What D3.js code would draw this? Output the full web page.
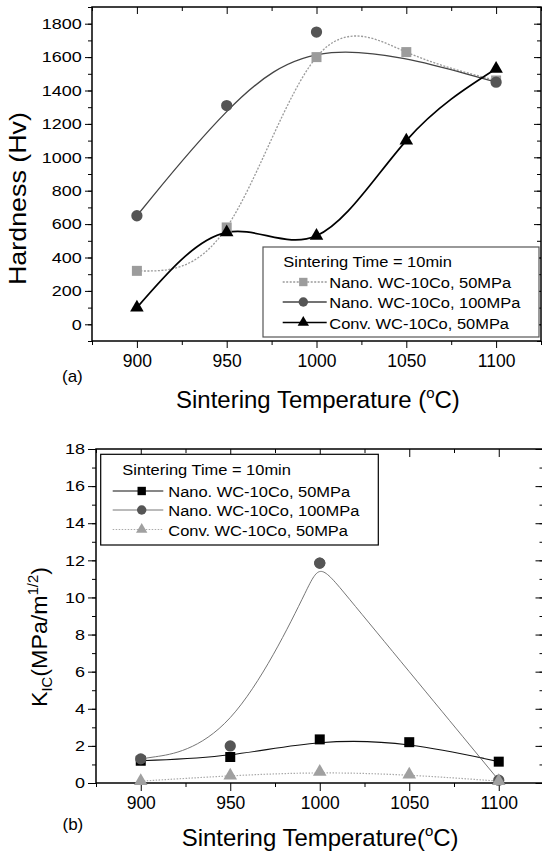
<!DOCTYPE html>
<html>
<head>
<meta charset="utf-8">
<script src="https://cdn.jsdelivr.net/npm/d3@7"></script>
<style>
	body { margin: 0; background: #fff; }
	svg { display: block; }
	text { font-family: "Liberation Sans", Arial, sans-serif; fill: #000; }
</style>
</head>
<body>
<svg id="chart" width="542" height="857"></svg>
<script>
/* Data */
const temps = [900, 950, 1000, 1050, 1100];
const tempTicks = [900, 950, 1000, 1050, 1100];

// (a) hardness, Hv
const hvNano50 = [320, 580, 1600, 1630, 1460];
const hvNano100Temps = [900, 950, 1000, 1100];
const hvNano100 = [650, 1310, 1750, 1450];
const hvConv50 = [100, 550, 530, 1100, 1530];
const hvTicks = [0, 200, 400, 600, 800, 1000, 1200, 1400, 1600, 1800];

// (b) fracture toughness K_IC, MPa/m^1/2
const kNano50 = [1.2, 1.4, 2.35, 2.2, 1.15];
// two readings sit on top of each other at 1000 (one marker visible, the curve shows both)
const kNano100Temps = [900, 950, 1000, 1000, 1100];
const kNano100 = [1.3, 2.0, 11.85, 11.85, 0.15];
const kConv50 = [0.1, 0.4, 0.6, 0.45, 0.1];
const kTicks = [0, 2, 4, 6, 8, 10, 12, 14, 16, 18];

const legendTitle = 'Sintering Time = 10min';
const seriesNames = ['Nano. WC-10Co, 50MPa', 'Nano. WC-10Co, 100MPa', 'Conv. WC-10Co, 50MPa'];

const svg = d3.select('#chart');
const plain = d3.format('d');

// fit a text (inside its own group) to a given width
function fitGroup(g, x, y, width, rot, sy) {
	const w = g.select('text').node().getComputedTextLength();
	g.attr('transform', `translate(${x},${y}) rotate(${rot || 0}) scale(${width / w},${sy || 1})`);
}

function marker(type, size) {
	const t = { square: d3.symbolSquare, circle: d3.symbolCircle, triangle: d3.symbolTriangle }[type];
	return d3.symbol().type(t).size(size)();
}

function panel(cfg) {
	const x = d3.scaleLinear().domain([875, 1125]).range([cfg.left, cfg.right]);
	const y = d3.scaleLinear().domain(cfg.yDomain).range([cfg.bottom, cfg.top]);
	const g = svg.append('g');

	// left axis (outward ticks, labels)
	const left = g.append('g').attr('transform', `translate(${cfg.left},0)`);
	left.call(d3.axisLeft(y).tickValues(cfg.yMinor).tickSize(cfg.minor).tickFormat(''));
	left.append('g').call(d3.axisLeft(y).tickValues(cfg.yTicks).tickSize(cfg.major).tickPadding(cfg.yPad).tickFormat(plain));
	// bottom axis
	const bottom = g.append('g').attr('transform', `translate(0,${cfg.bottom})`);
	bottom.call(d3.axisBottom(x).tickValues(d3.range(875, 1126, 50)).tickSize(cfg.minor).tickFormat(''));
	bottom.append('g').call(d3.axisBottom(x).tickValues(tempTicks).tickSize(cfg.major).tickPadding(cfg.xPad).tickFormat(plain));
	// mirrored top / right, ticks pointing in
	const top = g.append('g').attr('transform', `translate(0,${cfg.top})`);
	top.call(d3.axisBottom(x).tickValues(d3.range(875, 1126, 50)).tickSize(cfg.minor).tickFormat(''));
	top.append('g').call(d3.axisBottom(x).tickValues(tempTicks).tickSize(cfg.major).tickFormat(''));
	const right = g.append('g').attr('transform', `translate(${cfg.right},0)`);
	right.call(d3.axisLeft(y).tickValues(cfg.yMinor).tickSize(cfg.minor).tickFormat(''));
	right.append('g').call(d3.axisLeft(y).tickValues(cfg.yTicks).tickSize(cfg.major).tickFormat(''));

	g.selectAll('.domain').remove();
	g.selectAll('.tick line').attr('stroke', '#000').attr('stroke-width', 1);
	left.selectAll('.tick text').attr('font-size', 18).attr('transform', 'scale(1,0.82)');
	bottom.selectAll('.tick text').attr('font-size', 17.5);
	g.selectAll('.tick text').attr('font-family', '"Liberation Sans", Arial, sans-serif').attr('fill', '#000');

	g.append('rect')
		.attr('x', cfg.left).attr('y', cfg.top)
		.attr('width', cfg.right - cfg.left).attr('height', cfg.bottom - cfg.top)
		.attr('fill', 'none').attr('stroke', '#000').attr('stroke-width', 1.5);

	// curves
	const line = d3.line().x(d => x(d[0])).y(d => y(d[1]));
	cfg.series.forEach(s => {
		const pts = s.xs.map((t, i) => [t, s.ys[i]]);
		g.append('path')
			.attr('d', line.curve(s.curve)(pts))
			.attr('fill', 'none')
			.attr('stroke', s.stroke)
			.attr('stroke-width', s.width)
			.attr('stroke-dasharray', s.dash || null);
	});
	// markers
	cfg.series.forEach(s => {
		g.append('g').selectAll('path')
			.data(s.xs.map((t, i) => [t, s.ys[i]]))
			.join('path')
			.attr('d', marker(s.marker, s.size))
			.attr('transform', d => `translate(${x(d[0])},${y(d[1])})`)
			.attr('fill', s.fill);
	});

	// legend
	const L = cfg.legend;
	g.append('rect')
		.attr('x', L.x).attr('y', L.y).attr('width', L.w).attr('height', L.h)
		.attr('fill', '#fff').attr('stroke', L.border).attr('stroke-width', 1.2);
	g.append('text').attr('x', L.textX - 46).attr('y', L.titleY)
		.attr('font-size', 14).attr('transform', `translate(${(L.textX - 46) * -0.175},0) scale(1.175,1)`)
		.text(legendTitle);
	cfg.series.forEach((s, i) => {
		const my = L.rowY[i];
		g.append('line')
			.attr('x1', L.lx0).attr('x2', L.lx1).attr('y1', my).attr('y2', my)
			.attr('stroke', s.stroke).attr('stroke-width', Math.min(s.width, 1.3))
			.attr('stroke-dasharray', s.dash || null);
		g.append('path')
			.attr('d', marker(s.marker, s.size * 0.7))
			.attr('transform', `translate(${L.mx},${my})`)
			.attr('fill', s.fill);
		g.append('text').attr('x', L.textX).attr('y', my + 6.5)
			.attr('font-size', 14).attr('transform', `translate(${L.textX * -0.175},0) scale(1.175,1)`)
			.text(seriesNames[i]);
	});

	return { x, y };
}

// (a) Hardness
panel({
	left: 92, right: 541, top: 7, bottom: 341,
	yDomain: [-100, 1900],
	yTicks: hvTicks, yMinor: d3.range(-100, 1901, 100),
	major: 7, minor: 4, yPad: 3.3, xPad: 6.3,
	series: [
		{ xs: temps, ys: hvNano50, curve: d3.curveNatural, stroke: '#9a9a9a', width: 1.3, dash: '2,1.5', marker: 'square', size: 100, fill: '#9c9c9c' },
		{ xs: hvNano100Temps, ys: hvNano100, curve: d3.curveBasis, stroke: '#444', width: 1.3, marker: 'circle', size: 100, fill: '#555' },
		{ xs: temps, ys: hvConv50, curve: d3.curveNatural, stroke: '#000', width: 1.7, marker: 'triangle', size: 80, fill: '#000' }
	],
	legend: { x: 263, y: 247, w: 276, h: 90, border: '#555', titleY: 267.3, rowY: [282, 302, 322.5], lx0: 282.7, lx1: 326.7, mx: 303.3, textX: 329.3 }
});

// (b) Fracture toughness
panel({
	left: 96, right: 543.5, top: 449, bottom: 783,
	yDomain: [0, 18],
	yTicks: kTicks, yMinor: d3.range(0, 18.5, 1),
	major: 8, minor: 4, yPad: 3, xPad: 5.7,
	series: [
		{ xs: temps, ys: kNano50, curve: d3.curveBasis, stroke: '#111', width: 1.1, marker: 'square', size: 100, fill: '#000' },
		{ xs: kNano100Temps, ys: kNano100, curve: d3.curveBasis, stroke: '#666', width: 0.9, marker: 'circle', size: 100, fill: '#555' },
		{ xs: temps, ys: kConv50, curve: d3.curveBasis, stroke: '#aaa', width: 1.2, dash: '1.5,1.5', marker: 'triangle', size: 80, fill: '#a0a0a0' }
	],
	legend: { x: 100.7, y: 454.3, w: 277.6, h: 90.7, border: '#000', titleY: 475, rowY: [491, 510, 529.5], lx0: 112.7, lx1: 163.3, mx: 141.7, textX: 168.3 }
});

// axis titles
function xTitle(x0, base, width, spaced) {
	const g = svg.append('g');
	const t = g.append('text').attr('font-size', 24);
	t.append('tspan').text('Sintering Temperature' + (spaced ? ' (' : '('));
	t.append('tspan').attr('font-size', 15).attr('dy', -10).text('o');
	t.append('tspan').attr('dy', 10).text('C)');
	fitGroup(g, x0, base, width, 0, 1);
}
xTitle(176, 408, 284, true);
xTitle(181.7, 846, 277, false);

// y titles
const ya = svg.append('g');
ya.append('text').attr('font-size', 23).text('Hardness (Hv)');
fitGroup(ya, 26, 285, 173, -90, 1);

const yb = svg.append('g');
const kt = yb.append('text').attr('font-size', 22);
kt.append('tspan').text('K');
kt.append('tspan').attr('font-size', 14).attr('dy', 5).text('IC');
kt.append('tspan').attr('dy', -5).text('(MPa/m');
kt.append('tspan').attr('font-size', 14).attr('dy', -9).text('1/2');
kt.append('tspan').attr('dy', 9).text(')');
fitGroup(yb, 46.7, 707, 140, -90, 1);

// panel tags
svg.append('text').attr('x', 62).attr('y', 381.5).attr('font-size', 17)
	.attr('font-family', '"Liberation Serif", "Times New Roman", serif').text('(a)');
svg.append('text').attr('x', 62.5).attr('y', 830).attr('font-size', 17)
	.attr('font-family', '"Liberation Serif", "Times New Roman", serif').text('(b)');
</script>
</body>
</html>
